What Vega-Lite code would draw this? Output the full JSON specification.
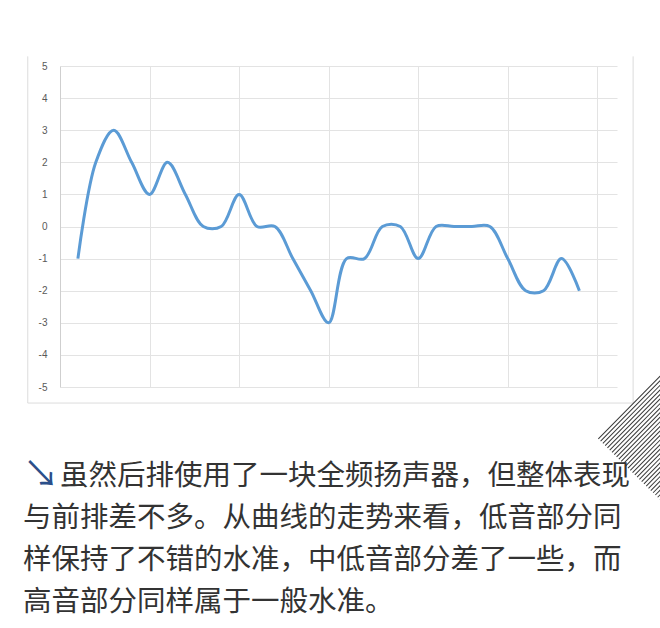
{
  "$schema": "https://vega.github.io/schema/vega-lite/v6.json",
  "padding": {"left": 22, "top": 55, "right": 0, "bottom": 0},
  "background": "white",
  "bounds": "flush",
  "spacing": 68,
  "config": {"view": {"stroke": null}, "font": "Noto Sans CJK SC"},
  "datasets": {
    "curve": [
      {"i": 1, "v": -1}, {"i": 2, "v": 2}, {"i": 3, "v": 3}, {"i": 4, "v": 2}, {"i": 5, "v": 1},
      {"i": 6, "v": 2}, {"i": 7, "v": 1}, {"i": 8, "v": 0}, {"i": 9, "v": 0}, {"i": 10, "v": 1},
      {"i": 11, "v": 0}, {"i": 12, "v": 0}, {"i": 13, "v": -1}, {"i": 14, "v": -2}, {"i": 15, "v": -3},
      {"i": 16, "v": -1}, {"i": 17, "v": -1}, {"i": 18, "v": 0}, {"i": 19, "v": 0}, {"i": 20, "v": -1},
      {"i": 21, "v": 0}, {"i": 22, "v": 0}, {"i": 23, "v": 0}, {"i": 24, "v": 0}, {"i": 25, "v": -1},
      {"i": 26, "v": -2}, {"i": 27, "v": -2}, {"i": 28, "v": -1}, {"i": 29, "v": -2}
    ],
    "lines": [
      {"line": 1, "text": "虽然后排使用了一块全频扬声器，但整体表现"},
      {"line": 2, "text": "与前排差不多。从曲线的走势来看，低音部分同"},
      {"line": 3, "text": "样保持了不错的水准，中低音部分差了一些，而"},
      {"line": 4, "text": "高音部分同样属于一般水准。"}
    ],
    "one": [{}]
  },
  "vconcat": [
    {
      "width": 557,
      "height": 321,
      "layer": [
        {
          "data": {"name": "curve"},
          "mark": {"type": "line", "interpolate": "catmull-rom", "color": "#5b9bd5", "strokeWidth": 3},
          "encoding": {
            "x": {
              "field": "i", "type": "quantitative",
              "scale": {"domain": [0, 31.1], "nice": false, "zero": false},
              "axis": {"title": null, "labels": false, "ticks": false, "domain": false, "grid": true,
                       "values": [5, 10, 15, 20, 25, 30], "gridColor": "#e3e3e3", "gridWidth": 1}
            },
            "y": {
              "field": "v", "type": "quantitative",
              "scale": {"domain": [-5, 5], "nice": false},
              "axis": {"title": null, "values": [-5, -4, -3, -2, -1, 0, 1, 2, 3, 4, 5], "ticks": false,
                       "labelOverlap": false, "labelExpr": "'' + datum.value",
                       "domain": true, "domainColor": "#cfcfcf", "grid": true, "gridColor": "#e3e3e3",
                       "labelPadding": 13, "labelFontSize": 10, "labelColor": "#595959",
                       "labelFont": "Liberation Sans"}
            }
          }
        },
        {
          "data": {"name": "one"},
          "mark": {"type": "rule", "color": "#dcdcdc", "strokeWidth": 1},
          "encoding": {
            "x": {"datum": -1.8, "type": "quantitative",
                  "axis": {"title": null, "labels": false, "ticks": false, "domain": false, "grid": true,
                           "values": [5, 10, 15, 20, 25, 30], "gridColor": "#e3e3e3", "gridWidth": 1}},
            "y": {"datum": 5.3, "type": "quantitative",
                  "axis": {"title": null, "values": [-5, -4, -3, -2, -1, 0, 1, 2, 3, 4, 5], "ticks": false,
                           "labelOverlap": false, "labelExpr": "'' + datum.value",
                           "domain": true, "domainColor": "#cfcfcf", "grid": true, "gridColor": "#e3e3e3",
                           "labelPadding": 13, "labelFontSize": 10, "labelColor": "#595959",
                           "labelFont": "Liberation Sans"}},
            "y2": {"datum": -5.5}
          }
        },
        {
          "data": {"name": "one"},
          "mark": {"type": "rule", "color": "#dcdcdc", "strokeWidth": 1},
          "encoding": {
            "x": {"datum": 32.0, "type": "quantitative",
                  "axis": {"title": null, "labels": false, "ticks": false, "domain": false, "grid": true,
                           "values": [5, 10, 15, 20, 25, 30], "gridColor": "#e3e3e3", "gridWidth": 1}},
            "y": {"datum": 5.3, "type": "quantitative",
                  "axis": {"title": null, "values": [-5, -4, -3, -2, -1, 0, 1, 2, 3, 4, 5], "ticks": false,
                           "labelOverlap": false, "labelExpr": "'' + datum.value",
                           "domain": true, "domainColor": "#cfcfcf", "grid": true, "gridColor": "#e3e3e3",
                           "labelPadding": 13, "labelFontSize": 10, "labelColor": "#595959",
                           "labelFont": "Liberation Sans"}},
            "y2": {"datum": -5.5}
          }
        },
        {
          "data": {"name": "one"},
          "mark": {"type": "rule", "color": "#dcdcdc", "strokeWidth": 1},
          "encoding": {
            "x": {"datum": -1.8, "type": "quantitative",
                  "axis": {"title": null, "labels": false, "ticks": false, "domain": false, "grid": true,
                           "values": [5, 10, 15, 20, 25, 30], "gridColor": "#e3e3e3", "gridWidth": 1}},
            "x2": {"datum": 32.0},
            "y": {"datum": -5.5, "type": "quantitative",
                  "axis": {"title": null, "values": [-5, -4, -3, -2, -1, 0, 1, 2, 3, 4, 5], "ticks": false,
                           "labelOverlap": false, "labelExpr": "'' + datum.value",
                           "domain": true, "domainColor": "#cfcfcf", "grid": true, "gridColor": "#e3e3e3",
                           "labelPadding": 13, "labelFontSize": 10, "labelColor": "#595959",
                           "labelFont": "Liberation Sans"}}
          }
        },
        {
          "data": {"name": "one"},
          "mark": {"type": "rule", "color": "#3a3a3a", "strokeWidth": 90, "strokeDash": [1, 2.2], "strokeCap": "butt"},
          "encoding": {
            "x": {"datum": 31.8, "type": "quantitative",
                  "axis": {"title": null, "labels": false, "ticks": false, "domain": false, "grid": true,
                           "values": [5, 10, 15, 20, 25, 30], "gridColor": "#e3e3e3", "gridWidth": 1}},
            "x2": {"datum": 35.32},
            "y": {"datum": -5.607, "type": "quantitative",
                  "axis": {"title": null, "values": [-5, -4, -3, -2, -1, 0, 1, 2, 3, 4, 5], "ticks": false,
                           "labelOverlap": false, "labelExpr": "'' + datum.value",
                           "domain": true, "domainColor": "#cfcfcf", "grid": true, "gridColor": "#e3e3e3",
                           "labelPadding": 13, "labelFontSize": 10, "labelColor": "#595959",
                           "labelFont": "Liberation Sans"}},
            "y2": {"datum": -7.539}
          }
        }
      ]
    },
    {
      "width": 557,
      "height": 168,
      "data": {"name": "lines"},
      "encoding": {
        "x": {"datum": 0, "type": "quantitative", "scale": {"domain": [0, 1]}, "axis": null},
        "y": {"field": "line", "type": "ordinal", "scale": {"type": "point", "padding": 0.5}, "axis": null}
      },
      "layer": [
        {
          "transform": [{"filter": "datum.line == 1"}],
          "mark": {"type": "text", "align": "left", "baseline": "middle", "fontSize": 28.5, "color": "#333333", "dx": 0},
          "encoding": {"text": {"field": "text"}}
        },
        {
          "transform": [{"filter": "datum.line > 1"}],
          "mark": {"type": "text", "align": "left", "baseline": "middle", "fontSize": 28.5, "color": "#333333", "dx": -37},
          "encoding": {"text": {"field": "text"}}
        },
        {
          "transform": [{"filter": "datum.line == 1"}],
          "mark": {"type": "text", "text": "↘", "align": "center", "baseline": "middle", "fontSize": 36, "color": "#2b4f8a", "dx": -19},
          "encoding": {}
        }
      ]
    }
  ]
}
